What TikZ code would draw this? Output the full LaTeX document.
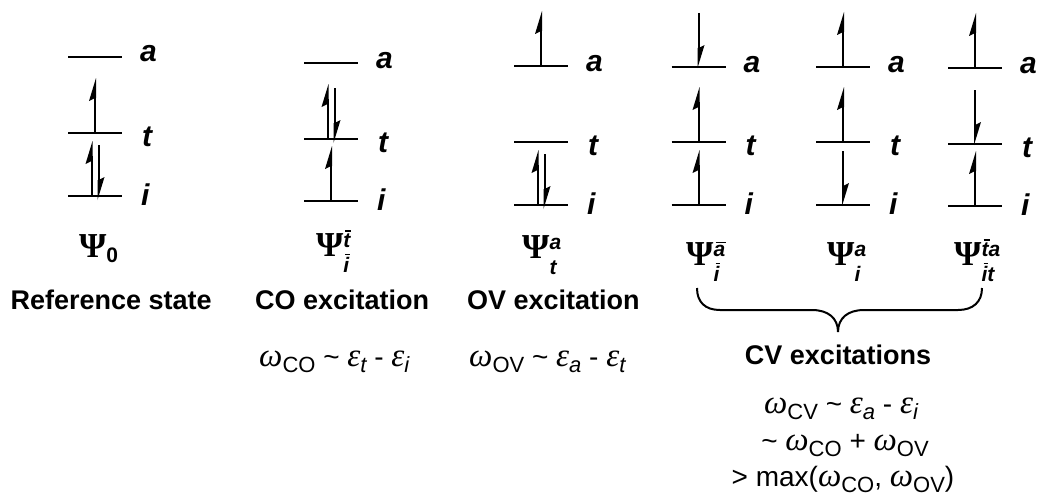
\documentclass[tikz,border=0pt]{standalone}
\usepackage{fontspec}
\setmainfont{Liberation Sans}
\newfontfamily\serifgr{Liberation Serif}
\newcommand\Psiglyph{{\fontsize{35}{35}\selectfont\serifgr\bfseries Ψ}}
\newcommand\scr[1]{{\fontsize{21}{21}\selectfont\bfseries\itshape #1}}
\newcommand\ovl[1]{\leavevmode\setbox0\hbox{#1}\rlap{\kern2pt\raisebox{\dimexpr\ht0+1.6pt\relax}{\rule{\dimexpr\wd0-1pt\relax}{1.6pt}}}\box0}
\newcommand\PsiSS[2]{\Psiglyph\rlap{\raisebox{9pt}{\scr{#1}}}\raisebox{-16pt}{\scr{#2}}}
\newcommand\om{{\fontsize{33}{33}\selectfont\serifgr\itshape ω}}
\newcommand\ep{{\fontsize{33}{33}\selectfont\serifgr\itshape ε}}
\newcommand\lo[1]{\raisebox{-6pt}{\fontsize{22}{22}\selectfont #1}}
\tikzset{
  lev/.style={line width=2.2pt},
  spin/.style={line width=2pt},
  lbl/.style={font=\fontsize{30}{30}\selectfont\bfseries\itshape, inner sep=0pt},
  ttl/.style={font=\fontsize{27}{27}\selectfont\bfseries, inner sep=0pt},
  fml/.style={font=\fontsize{28}{28}\selectfont, inner sep=0pt},
  psi/.style={inner sep=0pt, anchor=base west},
  bracestroke/.style={line width=2pt},
  upspin/.pic={\draw[spin] (0,0) -- (0,-40); \fill (1,-55) -- (-6,-32) -- (0,-35) -- (1,-35) -- cycle;},
  downspin/.pic={\draw[spin] (0,-54) -- (0,-14); \fill (-1,1) -- (6,-22) -- (0,-19) -- (-1,-19) -- cycle;},
}
\newcommand\levcol[5]{%
  \draw[lev] (#2-27,#3) -- (#2+27,#3);
  \draw[lev] (#2-27,#4) -- (#2+27,#4);
  \draw[lev] (#2-27,#5) -- (#2+27,#5);
  \node[lbl,anchor=base west] (#1a) at (#2+45,#3+5) {a};
  \node[lbl,anchor=base west] (#1t) at (#2+47,#4+13) {t};
  \node[lbl,anchor=base west] (#1i) at (#2+46,#5+9) {i};
}
\begin{document}
\begin{tikzpicture}[x=1pt,y=-1pt]
\fill[white] (0,0) rectangle (1040,495);
\useasboundingbox (0,0) rectangle (1040,495);

% level columns
\levcol{c1}{95}{57}{133}{196}
\levcol{c2}{331}{63}{139}{201}
\levcol{c3}{541}{66}{142}{205}
\levcol{c4}{698.5}{67}{142}{205}
\levcol{c5}{843}{67}{142}{205}
\levcol{c6}{975}{68}{144}{206}

% spins
\pic at (95,133) {upspin};
\pic at (91.5,196) {upspin};
\pic at (98.5,199) {downspin};

\pic at (327.5,139) {upspin};
\pic at (334.5,142) {downspin};
\pic at (331,201) {upspin};

\pic at (541,66) {upspin};
\pic at (537.5,205) {upspin};
\pic at (544.5,208) {downspin};

\pic at (698.5,67) {downspin};
\pic at (698.5,142) {upspin};
\pic at (698.5,205) {upspin};

\pic at (843,67) {upspin};
\pic at (843,142) {upspin};
\pic at (843,205) {downspin};

\pic at (975,68) {upspin};
\pic at (975,144) {downspin};
\pic at (975,206) {upspin};

% wavefunction labels
\node[psi] (psi0) at (79,257) {\Psiglyph\raisebox{-5pt}{\scr{\upshape 0}}};
\node[psi] (psico) at (316,256) {\PsiSS{\ovl{t}}{\ovl{i}}};
\node[psi] (psiov) at (522,258) {\PsiSS{a}{t}};
\node[psi] (psicv1) at (686,265) {\PsiSS{\ovl{a}}{\ovl{i}}};
\node[psi] (psicv2) at (827,265) {\PsiSS{a}{i}};
\node[psi] (psicv3) at (954,265) {\PsiSS{\ovl{t}a}{\ovl{i}t}};

% titles
\node[ttl,anchor=base east] (ref) at (212,309) {Reference state};
\node[ttl,anchor=base west] (co) at (255,309) {CO excitation};
\node[ttl,anchor=base west] (ov) at (467,309) {OV excitation};
\node[ttl,anchor=base] (cv) at (838,364) {CV excitations};

% formulas
\node[fml,anchor=base west] (fco) at (259,366) {\om\lo{CO} \textasciitilde{} \ep\lo{\itshape t} - \ep\lo{\itshape i}};
\node[fml,anchor=base west] (fov) at (469,366) {\om\lo{OV} \textasciitilde{} \ep\lo{\itshape a} - \ep\lo{\itshape t}};
\node[fml,anchor=base] (fcv1) at (841,413) {\om\lo{CV} \textasciitilde{} \ep\lo{\itshape a} - \ep\lo{\itshape i}};
\node[fml,anchor=base] (fcv2) at (845,450) {\textasciitilde{} \om\lo{CO} + \om\lo{OV}};
\node[fml,anchor=base] (fcv3) at (843,486) {> max(\om\lo{CO}, \om\lo{OV})};

% brace
\draw[bracestroke] (697,288) .. controls (697,302) and (705,310) .. (720,310)
  -- (812,310) .. controls (828,310) and (838,318) .. (838,332)
  .. controls (838,318) and (848,310) .. (864,310)
  -- (958,310) .. controls (973,310) and (982,302) .. (982,288);
\end{tikzpicture}
\end{document}
